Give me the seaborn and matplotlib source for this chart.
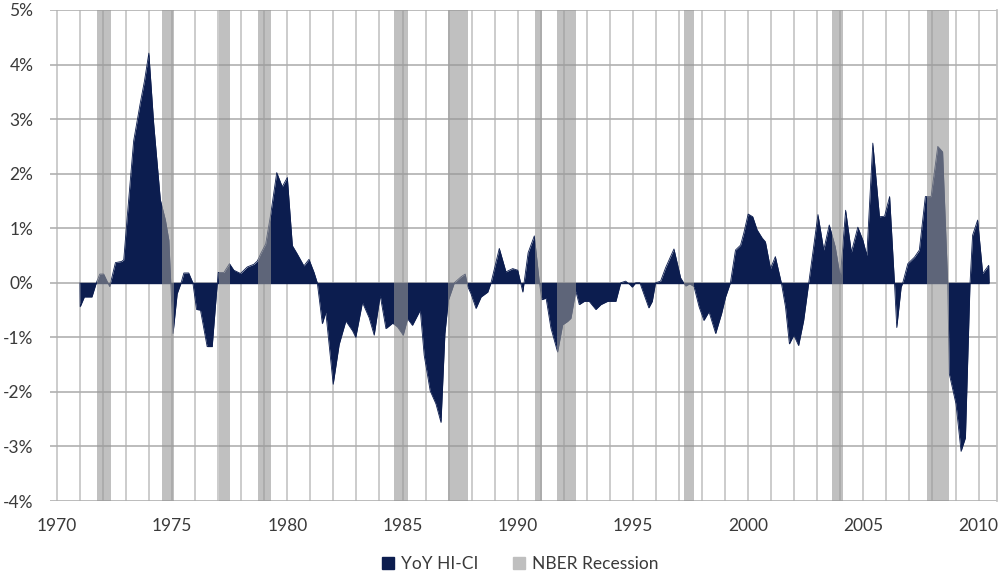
import numpy as np
import pandas as pd
import matplotlib
matplotlib.use("Agg")
import matplotlib.pyplot as plt
from matplotlib.patches import Patch
from matplotlib.ticker import FuncFormatter, MultipleLocator
import seaborn as sns

# YoY HI-CI (decimal year, percent)
dates = [1971.0, 1971.01, 1971.19, 1971.52, 1971.71, 1971.86, 1972.03, 1972.29, 1972.54, 1972.8,
         1972.9, 1973.05, 1973.33, 1973.62, 1973.8, 1973.99, 1974.2, 1974.49, 1974.71, 1974.86,
         1974.94, 1975.04, 1975.22, 1975.39, 1975.51, 1975.72, 1975.9, 1976.06, 1976.23, 1976.52,
         1976.74, 1976.96, 1977.0, 1977.25, 1977.49, 1977.68, 1977.97, 1978.26, 1978.55, 1978.7,
         1978.84, 1979.06, 1979.28, 1979.54, 1979.78, 1980.0, 1980.22, 1980.43, 1980.72, 1980.94,
         1981.16, 1981.3, 1981.52, 1981.67, 1981.99, 1982.25, 1982.54, 1982.83, 1982.97, 1983.26,
         1983.55, 1983.77, 1984.03, 1984.28, 1984.57, 1984.78, 1985.03, 1985.22, 1985.43, 1985.77,
         1985.94, 1986.2, 1986.45, 1986.67, 1986.84, 1986.99, 1987.25, 1987.54, 1987.72, 1987.83,
         1987.97, 1988.19, 1988.41, 1988.7, 1988.84, 1989.2, 1989.49, 1989.78, 1990.0, 1990.22,
         1990.45, 1990.72, 1990.94, 1991.05, 1991.23, 1991.44, 1991.73, 1991.95, 1992.16, 1992.31,
         1992.52, 1992.67, 1992.89, 1993.1, 1993.39, 1993.61, 1993.9, 1994.26, 1994.47, 1994.68,
         1994.86, 1994.97, 1995.12, 1995.3, 1995.69, 1995.84, 1995.98, 1996.2, 1996.42, 1996.78,
         1997.07, 1997.29, 1997.46, 1997.65, 1997.87, 1998.08, 1998.3, 1998.59, 1998.85, 1999.02,
         1999.23, 1999.45, 1999.67, 1999.81, 2000.0, 2000.2, 2000.39, 2000.61, 2000.75, 2000.97,
         2001.18, 2001.44, 2001.62, 2001.79, 2001.98, 2002.19, 2002.41, 2002.63, 2002.84, 2003.03,
         2003.28, 2003.52, 2003.78, 2004.0, 2004.23, 2004.48, 2004.76, 2004.98, 2005.15, 2005.41,
         2005.7, 2005.92, 2006.14, 2006.35, 2006.45, 2006.64, 2006.71, 2006.93, 2007.22, 2007.43,
         2007.69, 2007.94, 2008.23, 2008.44, 2008.66, 2008.73, 2009.02, 2009.24, 2009.43, 2009.63,
         2009.74, 2009.96, 2010.18, 2010.44, 2010.46]
hici = [0.0, -0.44, -0.26, -0.26, 0.0, 0.16, 0.16, -0.07, 0.37, 0.39,
        0.42, 1.2, 2.6, 3.3, 3.7, 4.21, 2.92, 1.52, 1.15, 0.78,
        0.0, -0.93, -0.2, 0.0, 0.18, 0.18, 0.0, -0.49, -0.5, -1.17,
        -1.17, 0.0, 0.19, 0.19, 0.35, 0.23, 0.17, 0.29, 0.34, 0.4,
        0.53, 0.71, 1.26, 2.02, 1.76, 1.93, 0.68, 0.53, 0.31, 0.43,
        0.19, 0.0, -0.75, -0.54, -1.86, -1.13, -0.7, -0.88, -1.0, -0.36,
        -0.64, -0.96, -0.23, -0.84, -0.74, -0.81, -0.96, -0.66, -0.78, -0.5,
        -1.33, -1.98, -2.22, -2.56, -0.93, -0.32, 0.0, 0.11, 0.16, -0.07,
        -0.2, -0.47, -0.26, -0.17, 0.0, 0.63, 0.2, 0.26, 0.23, -0.17,
        0.55, 0.86, 0.0, -0.31, -0.28, -0.83, -1.27, -0.77, -0.71, -0.65,
        -0.15, -0.4, -0.34, -0.34, -0.49, -0.4, -0.34, -0.34, 0.0, 0.03,
        -0.03, -0.08, 0.0, 0.0, -0.46, -0.34, 0.0, 0.03, 0.28, 0.62,
        0.09, -0.06, -0.02, -0.07, -0.44, -0.69, -0.53, -0.93, -0.56, -0.26,
        0.0, 0.6, 0.69, 0.91, 1.26, 1.21, 0.97, 0.82, 0.75, 0.26,
        0.48, 0.0, -0.44, -1.12, -0.96, -1.15, -0.69, 0.0, 0.66, 1.25,
        0.6, 1.06, 0.66, 0.1, 1.33, 0.56, 1.02, 0.78, 0.5, 2.56,
        1.21, 1.22, 1.58, 0.0, -0.82, -0.08, 0.0, 0.35, 0.47, 0.6,
        1.58, 1.58, 2.5, 2.4, 0.0, -1.67, -2.22, -3.09, -2.84, 0.0,
        0.87, 1.15, 0.17, 0.32, 0.0]

# recession shading (start, end in decimal years)
rec_start = [1971.75, 1974.57, 1977.02, 1978.74, 1984.65, 1986.96, 1990.76, 1991.7, 1997.2, 2003.66, 2007.75]
rec_end = [1972.36, 1975.08, 1977.53, 1979.27, 1985.22, 1987.83, 1991.07, 1992.53, 1997.63, 2004.1, 2008.7]

navy = "#0c1d4f"
df = pd.DataFrame({"date": dates, "hici": hici})

sns.set_theme(style="white")
plt.rcParams["font.family"] = ["Lato", "DejaVu Sans"]

fig = plt.figure(figsize=(10.01, 5.77), dpi=100)
ax = fig.add_axes([50 / 1001, 76 / 577, 947 / 1001, 491 / 577])

ax.fill_between(df["date"], df["hici"], 0, color=navy, lw=0, zorder=2)
sns.lineplot(data=df, x="date", y="hici", color=navy, lw=0.6, ax=ax, zorder=3)
ax.hlines(0, dates[0], dates[-1], color=navy, lw=1.0, zorder=3)

for s, e in zip(rec_start, rec_end):
    ax.axvspan(s, e, color="#969696", alpha=0.6, lw=0, zorder=4)

ax.set_xlim(1969.7, 2010.8)
ax.set_ylim(-4, 5)
ax.set_xticks(range(1970, 2011, 5))
ax.xaxis.set_minor_locator(MultipleLocator(1))
ax.yaxis.set_major_locator(MultipleLocator(1))
ax.yaxis.set_major_formatter(FuncFormatter(lambda v, p: "{:.0f}%".format(v)))

ax.grid(True, which="major", axis="y", color="#b0b0b0", lw=1.2, zorder=0)
ax.grid(True, which="both", axis="x", color="#c4c4c4", lw=1.2, zorder=0)
ax.set_axisbelow(True)

for side in ["left", "bottom", "top"]:
    ax.spines[side].set_visible(False)
ax.spines["right"].set_color("#c0c0c0")
ax.tick_params(axis="both", which="both", length=0, labelsize=12.5, colors="#3a3a3a")
ax.tick_params(axis="x", pad=12)
ax.tick_params(axis="y", pad=12)
ax.set_xlabel("")
ax.set_ylabel("")

handles = [Patch(color=navy, label="YoY HI-CI"), Patch(color="#bfbfbf", label="NBER Recession")]
fig.legend(handles=handles, loc="center", bbox_to_anchor=(0.52, 0.022), ncol=2, frameon=False,
           fontsize=12.5, handlelength=0.7, handleheight=0.7, handletextpad=0.4, columnspacing=2.0,
           labelcolor="#3a3a3a")

fig.savefig("out.png", dpi=100)
